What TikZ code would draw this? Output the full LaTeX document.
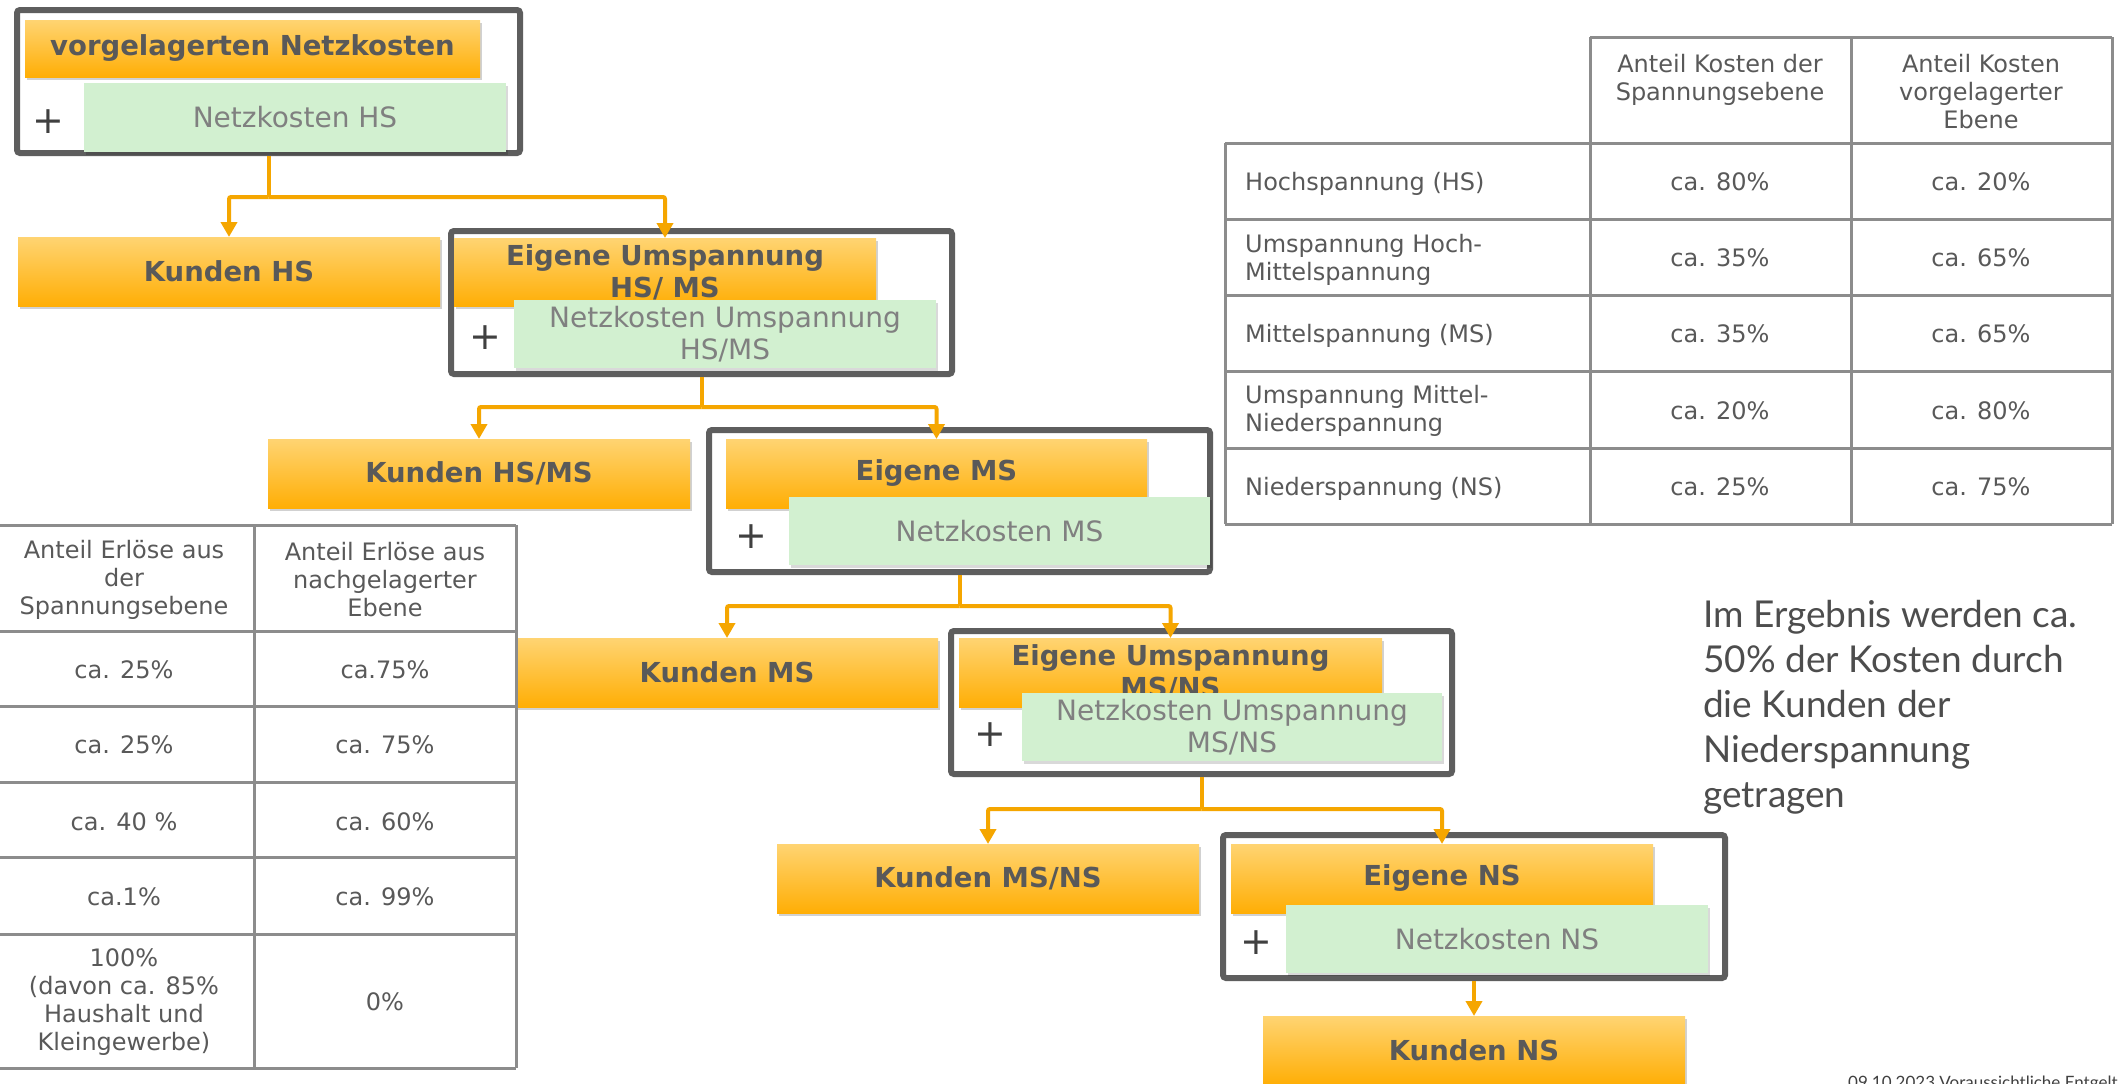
\documentclass[tikz,border=0pt]{standalone}
\usepackage{fontspec}
\setmainfont{DejaVu Sans}
\newfontfamily\latofont{Lato}
\usetikzlibrary{arrows.meta,shadows,calc,backgrounds}
\definecolor{orTop}{HTML}{FFD472}
\definecolor{orBot}{HTML}{FFAE05}
\definecolor{grn}{HTML}{D2F0D0}
\definecolor{frm}{HTML}{5E5E5E}
\definecolor{arr}{HTML}{F5A600}
\definecolor{txt}{HTML}{595959}
\definecolor{gtxt}{HTML}{808080}
\definecolor{tline}{HTML}{8C8C8C}
\definecolor{ptxt}{HTML}{404040}
\definecolor{rtxt}{HTML}{4D4D4D}
\tikzset{
  box/.style={rectangle, inner sep=0pt, outer sep=0pt, anchor=north west, align=center},
  obox/.style={box, top color=orTop, bottom color=orBot, minimum width=422pt, minimum height=69pt,
    text=txt, font=\fontsize{27.5}{32}\selectfont\bfseries,
    drop shadow={shadow xshift=2pt, shadow yshift=-3pt, opacity=0.18, fill=black}},
  gbox/.style={box, fill=grn, minimum width=421pt, minimum height=68pt,
    text=gtxt, font=\fontsize{28}{32}\selectfont,
    drop shadow={shadow xshift=2pt, shadow yshift=-3pt, opacity=0.15, fill=black}},
  fbox/.style={box, draw=frm, line width=6pt, rounded corners=3pt, minimum width=501pt, minimum height=143pt},
  fshadow/.style={draw=black, opacity=0.12, line width=6pt, rounded corners=3pt},
  conn/.style={draw=arr, line width=4pt, rounded corners=2pt, -{Triangle[width=16pt,length=15pt]}},
  stemline/.style={draw=arr, line width=4pt},
  plus/.style={inner sep=0pt, text=ptxt, font=\fontsize{38}{40}\selectfont},
  tcell/.style={inner sep=0pt, text=txt, font=\fontsize{24}{28}\selectfont, align=center},
  tleft/.style={tcell, align=left},
  tgrid/.style={draw=tline, line width=3pt},
}
\begin{document}
\begin{tikzpicture}[x=1pt,y=-1pt]
\useasboundingbox[fill=white] (0,0) rectangle (2118,1084);

% ---------- frames ----------
\node[fbox, minimum width=503pt] (f1) at (17,10) {};
\node[fbox] (f2) at (451,231) {};
\node[fbox, minimum height=142pt] (f3) at (709,430) {};
\node[fbox] (f4) at (951,631) {};
\node[fbox, minimum width=502pt] (f5) at (1223,835) {};
\begin{scope}[on background layer]
  \foreach \f in {f1,f2,f3,f4,f5}{
    \draw[fshadow] ($(\f.north west)+(3,4)$) rectangle ($(\f.south east)+(3,4)$);
  }
\end{scope}

% ---------- orange boxes ----------
\node[obox, minimum width=455pt, minimum height=57pt] (o1) at (25,20) {vorgelagerten Netzkosten};
\node[obox, minimum height=68pt] (o2) at (454,238) {Eigene Umspannung\\HS/ MS};
\node[obox, minimum width=421pt] (o3) at (726,439) {Eigene MS};
\node[obox, minimum width=423pt] (o4) at (959,638) {Eigene Umspannung\\MS/NS};
\node[obox] (o5) at (1231,844) {Eigene NS};

\node[obox] (k1) at (18,237) {Kunden HS};
\node[obox] (k2) at (268,439) {Kunden HS/MS};
\node[obox] (k3) at (516,638) {Kunden MS};
\node[obox] (k4) at (777,844) {Kunden MS/NS};
\node[obox] (k5) at (1263,1016) {Kunden NS};

% ---------- green boxes ----------
\node[gbox, minimum width=422pt, minimum height=69pt] (g1) at (84,83) {Netzkosten HS};
\node[gbox, minimum width=422pt] (g2) at (514,300) {Netzkosten Umspannung\\HS/MS};
\node[gbox] (g3) at (789,497) {Netzkosten MS};
\node[gbox, minimum width=420pt] (g4) at (1022,693) {Netzkosten Umspannung\\MS/NS};
\node[gbox, minimum width=422pt] (g5) at (1286,905) {Netzkosten NS};

% ---------- plus signs ----------
\node[plus] (p1) at (48,122) {+};
\node[plus] (p2) at (485,338) {+};
\node[plus] (p3) at (751,537) {+};
\node[plus] (p4) at (990,735) {+};
\node[plus] (p5) at (1256,943) {+};

% ---------- connectors ----------
\coordinate (j1) at (f1.south |- 0,197);
\coordinate (j2) at (f2.south |- 0,407);
\coordinate (j3) at (f3.south |- 0,606);
\coordinate (j4) at (f4.south |- 0,809);
\draw[stemline] ([yshift=-3pt]f1.south) -- (j1);
\draw[conn] (j1) -| (k1.north);
\draw[conn] (j1) -| (o2.north);
\draw[stemline] ([yshift=-3pt]f2.south) -- (j2);
\draw[conn] (j2) -| (k2.north);
\draw[conn] (j2) -| (o3.north);
\draw[stemline] ([yshift=-3pt]f3.south) -- (j3);
\draw[conn] (j3) -| (k3.north);
\draw[conn] (j3) -| (o4.north);
\draw[stemline] ([yshift=-3pt]f4.south) -- (j4);
\draw[conn] (j4) -| (k4.north);
\draw[conn] (j4) -| (o5.north);
\draw[conn] ([yshift=-3pt]f5.south) -- (k5.north);

% ---------- right table ----------
\draw[tgrid] (1590,37) -- (2112,37);
\foreach \yy in {143,219,295,371,448,524}{ \draw[tgrid] (1225,\yy) -- (2112,\yy); }
\draw[tgrid] (1225,143) -- (1225,524);
\foreach \xx in {1590,1851,2112}{ \draw[tgrid] (\xx,37) -- (\xx,524); }

\node[tcell, anchor=north] (rh2) at (1720,54) {Anteil Kosten der\\Spannungsebene};
\node[tcell, anchor=north] (rh3) at (1981,54) {Anteil Kosten\\vorgelagerter\\Ebene};
\node[tleft, anchor=base west] (rl1) at (1245,190) {Hochspannung (HS)};
\node[tleft, anchor=west] (rl2) at (1245,259.5) {Umspannung Hoch-\\Mittelspannung};
\node[tleft, anchor=base west] (rl3) at (1245,342) {Mittelspannung (MS)};
\node[tleft, anchor=west] (rl4) at (1245,410.5) {Umspannung Mittel-\\Niederspannung};
\node[tleft, anchor=base west] (rl5) at (1245,495) {Niederspannung (NS)};
\node[tcell, anchor=base] (ra1) at (1720,190) {ca. 80\%};
\node[tcell, anchor=base] (rb1) at (1981,190) {ca. 20\%};
\node[tcell, anchor=base] (ra2) at (1720,266) {ca. 35\%};
\node[tcell, anchor=base] (rb2) at (1981,266) {ca. 65\%};
\node[tcell, anchor=base] (ra3) at (1720,342) {ca. 35\%};
\node[tcell, anchor=base] (rb3) at (1981,342) {ca. 65\%};
\node[tcell, anchor=base] (ra4) at (1720,419) {ca. 20\%};
\node[tcell, anchor=base] (rb4) at (1981,419) {ca. 80\%};
\node[tcell, anchor=base] (ra5) at (1720,495) {ca. 25\%};
\node[tcell, anchor=base] (rb5) at (1981,495) {ca. 75\%};

% ---------- left table ----------
\foreach \yy in {525,631,706,782,857,934,1068}{ \draw[tgrid] (-5,\yy) -- (516,\yy); }
\foreach \xx in {254,516}{ \draw[tgrid] (\xx,525) -- (\xx,1068); }

\node[tcell] (lh1) at (124,580) {Anteil Erlöse aus\\der\\Spannungsebene};
\node[tcell] (lh2) at (385,580) {Anteil Erlöse aus\\nachgelagerter\\Ebene};
\node[tcell, anchor=base] (la1) at (124,678) {ca. 25\%};
\node[tcell, anchor=base] (lb1) at (385,678) {ca.75\%};
\node[tcell, anchor=base] (la2) at (124,753) {ca. 25\%};
\node[tcell, anchor=base] (lb2) at (385,753) {ca. 75\%};
\node[tcell, anchor=base] (la3) at (124,830) {ca. 40 \%};
\node[tcell, anchor=base] (lb3) at (385,830) {ca. 60\%};
\node[tcell, anchor=base] (la4) at (124,905) {ca.1\%};
\node[tcell, anchor=base] (lb4) at (385,905) {ca. 99\%};
\node[tcell] (la5) at (124,1002) {100\%\\(davon ca. 85\%\\Haushalt und\\Kleingewerbe)};
\node[tcell, anchor=base] (lb5) at (385,1010) {0\%};

% ---------- result text ----------
\node[inner sep=0pt, anchor=north west, align=left, text=rtxt,
      font=\latofont\fontsize{37}{45}\selectfont] (result) at (1703,600)
  {Im Ergebnis werden ca.\\50\% der Kosten durch\\die Kunden der\\Niederspannung\\getragen};

% ---------- footer ----------
\node[inner sep=0pt, anchor=north west, text=ptxt, font=\latofont\fontsize{17}{19}\selectfont] (foot)
  at (1848,1076) {09.10.2023 Voraussichtliche Entgelte 2024};
\end{tikzpicture}
\end{document}
